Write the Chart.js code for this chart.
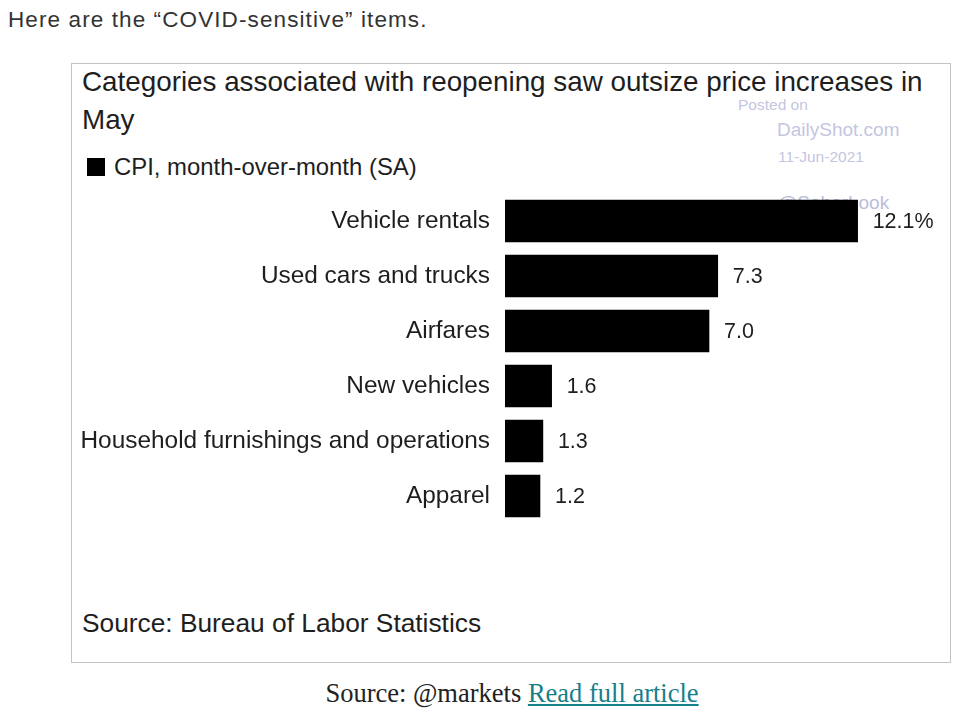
<!DOCTYPE html>
<html>
<head>
<meta charset="utf-8">
<script src="https://cdn.jsdelivr.net/npm/chart.js@4.4.1/dist/chart.umd.min.js"></script>
<style>
  body { margin: 0; background: #fff; width: 967px; height: 710px; position: relative; overflow: hidden; font-family: "Liberation Sans", Arial, sans-serif; }
  .abs { position: absolute; white-space: nowrap; }
  #intro { left: 8px; top: 6px; font-size: 22.5px; line-height: 28px; color: #333; letter-spacing: 1.1px; }
  #box { left: 71px; top: 63px; width: 878px; height: 598px; border: 1px solid #c4c4c4; }
  #title { left: 82px; top: 63px; font-size: 27.8px; line-height: 38px; color: #1e1e1e; }
  #legsq { left: 87px; top: 158px; width: 18px; height: 18px; background: #000; }
  #legtx { left: 114px; top: 153px; font-size: 23.9px; line-height: 28px; color: #1e1e1e; }
  #src { left: 82px; top: 607px; font-size: 26.3px; line-height: 32px; color: #1e1e1e; }
  #caption { left: 0; width: 1024px; text-align: center; top: 678px; font-family: "Liberation Serif", "DejaVu Serif", serif; font-size: 26.5px; line-height: 30px; color: #222; }
  #caption a { color: #16808a; text-decoration: underline; }
  .wm { color: #c3c6e0; }
  #chartWrap { left: 72px; top: 190px; }
</style>
</head>
<body>
<div class="abs" id="intro">Here are the “COVID-sensitive” items.</div>
<div class="abs" id="box"></div>
<div class="abs" id="title">Categories associated with reopening saw outsize price increases in<br>May</div>
<div class="abs wm" style="left:738px; top:96px; font-size:15.5px;">Posted on</div>
<div class="abs wm" style="left:777px; top:119px; font-size:19px;">DailyShot.com</div>
<div class="abs wm" style="left:778px; top:148px; font-size:15.5px;">11-Jun-2021</div>
<div class="abs wm" style="left:778px; top:192px; font-size:19px; color:#b9bddb;">@SoberLook</div>
<div class="abs" id="legsq"></div>
<div class="abs" id="legtx">CPI, month-over-month (SA)</div>
<div class="abs" id="chartWrap"><canvas id="chart" width="878" height="340"></canvas></div>
<div class="abs" id="src">Source: Bureau of Labor Statistics</div>
<div class="abs" id="caption">Source: @markets <a href="#">Read full article</a></div>

<script>
const categories = [
  "Vehicle rentals",
  "Used cars and trucks",
  "Airfares",
  "New vehicles",
  "Household furnishings and operations",
  "Apparel"
];
const cpiMoM = [12.1, 7.3, 7.0, 1.6, 1.3, 1.2];
const valueLabels = ["12.1%", "7.3", "7.0", "1.6", "1.3", "1.2"];

const barValueLabels = {
  id: 'barValueLabels',
  afterDatasetsDraw(chart) {
    const ctx = chart.ctx;
    const meta = chart.getDatasetMeta(0);
    ctx.save();
    ctx.font = '21.5px "Liberation Sans", Arial, sans-serif';
    ctx.fillStyle = '#1e1e1e';
    ctx.textAlign = 'left';
    ctx.textBaseline = 'middle';
    meta.data.forEach((bar, i) => {
      ctx.fillText(valueLabels[i], bar.x + 15, bar.y + 1);
    });
    ctx.restore();
  }
};

new Chart(document.getElementById('chart'), {
  type: 'bar',
  data: {
    labels: categories,
    datasets: [{
      label: 'CPI, month-over-month (SA)',
      data: cpiMoM,
      backgroundColor: '#000',
      barThickness: 42
    }]
  },
  options: {
    indexAxis: 'y',
    responsive: false,
    animation: false,
    devicePixelRatio: 1,
    layout: { padding: { left: 0, right: 37, top: 3.5, bottom: 6.5 } },
    plugins: {
      legend: { display: false },
      tooltip: { enabled: false }
    },
    scales: {
      x: { display: false, min: 0, max: 14 },
      y: {
        grid: { display: false, drawTicks: false },
        border: { display: false },
        ticks: {
          padding: 15,
          color: '#1e1e1e',
          font: { family: '"Liberation Sans", Arial, sans-serif', size: 24.4 }
        },
        afterFit: scale => {
          scale.width = 433;
          scale.paddingTop = 0;
          scale.paddingBottom = 0;
        }
      }
    }
  },
  plugins: [barValueLabels]
});
</script>
</body>
</html>
